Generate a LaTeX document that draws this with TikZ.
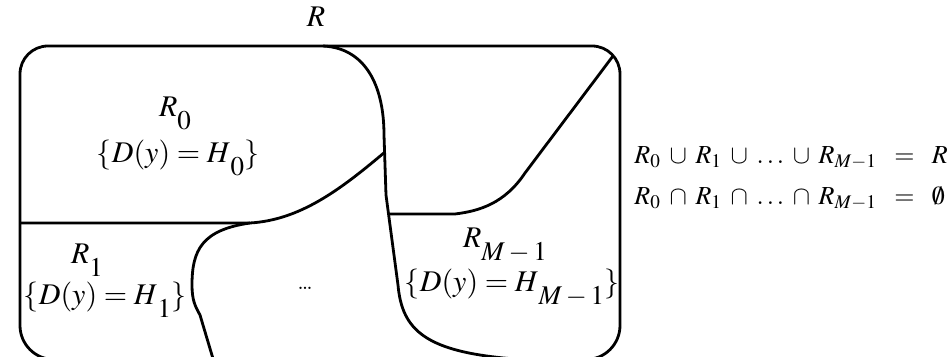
\documentclass[tikz,border=0pt]{standalone}
\usepackage{mathptmx}
\newcommand{\lsub}[1]{\mbox{\fontsize{13.5}{16}\selectfont\raisebox{-0.45em}{$#1$}}}
\begin{document}
\begin{tikzpicture}[x=0.5pt,y=-0.5pt,line join=round,
  bnd/.style={draw,line width=1.4pt},
  lbl/.style={inner sep=0pt,anchor=base,font=\fontsize{15}{18}\selectfont},
  eqn/.style={inner sep=0pt,anchor=base west,font=\fontsize{13}{15}\selectfont}]
\useasboundingbox (0,0) rectangle (950,357);
\clip (0,0) rectangle (950,357);
% outer region R
\draw[bnd] (20,200) [rounded corners=14pt] -- (20,46) -- (620,46) -- (620,200)
  [rounded corners=17pt] -- (620,359.5) -- (20,359.5) -- cycle;
% named points
\coordinate (topA) at (323,46);
\coordinate (midA) at (384,135);
\coordinate (botA) at (515,359);
\coordinate (leftB) at (20,223);
\coordinate (kneeB) at (250,223);
\coordinate (endB) at (385,152);
\coordinate (botC) at (214,362);
\coordinate (cornerD) at (613,56);
\coordinate (endD) at (388,214);
% boundary R0 | R_{M-1}
\draw[bnd] (topA) .. controls (365,48) and (384,85) .. (midA) -- (386,195) -- (392,240)
  -- (398,285) .. controls (402,330) and (425,352) .. (botA);
% boundary R0 | R1
\draw[bnd] (leftB) -- (kneeB) .. controls (300,220) and (340,190) .. (endB);
% boundary R1 | ...
\draw[bnd] (kneeB) .. controls (202,230) and (192,250) .. (192,285)
  .. controls (192,300) and (195,306) .. (200,315) -- (botC);
% boundary R_{M-1} top
\draw[bnd] (cornerD) -- (525,173) .. controls (505,203) and (480,211) .. (455,214) -- (endD);
% labels
\node[lbl] (lR) at (316,27) {$R$};
\node[lbl] (lR0) at (175,117) {$R\lsub{0}$};
\node[lbl] (lD0) at (178,163) {$\{D(y) = H\lsub{0}\}$};
\node[lbl] (lR1) at (87,264) {$R\lsub{1}$};
\node[lbl] (lD1) at (105,305) {$\{D(y) = H\lsub{1}\}$};
\node[lbl,font=\fontsize{12}{14}\selectfont] (ldots) at (305,290) {\ldots};
\node[lbl] (lRM) at (505,248) {$R\lsub{M-1}$};
\node[lbl] (lDM) at (512,292) {$\{D(y) = H\lsub{M-1}\}$};
\node[eqn] (eq1) at (634,164) {$\medmuskip=6mu R_0\cup R_1\cup \ldots \cup R_{M-1}\;\;=\;\;R$};
\node[eqn] (eq2) at (634,205) {$\medmuskip=6mu R_0\cap R_1\cap \ldots \cap R_{M-1}\;\;=\;\;\emptyset$};
\end{tikzpicture}
\end{document}
